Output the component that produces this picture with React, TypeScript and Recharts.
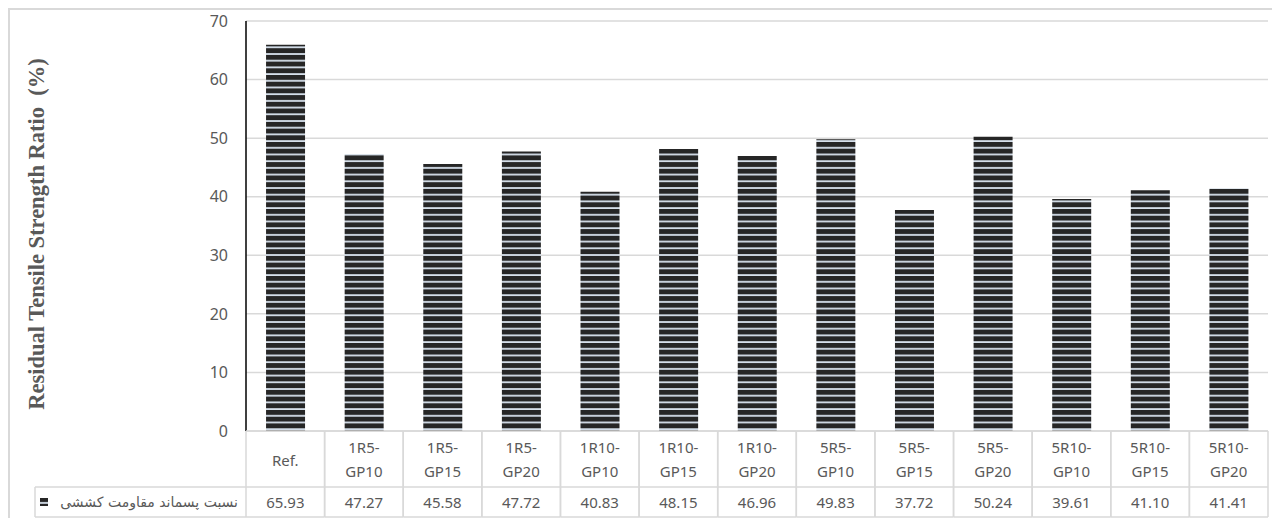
import React from 'react'
import { BarChart, Bar, XAxis, YAxis, CartesianGrid } from 'recharts'

// categories shown in the table header
const categories = [
  'Ref.',
  '1R5-GP10',
  '1R5-GP15',
  '1R5-GP20',
  '1R10-GP10',
  '1R10-GP15',
  '1R10-GP20',
  '5R5-GP10',
  '5R5-GP15',
  '5R5-GP20',
  '5R10-GP10',
  '5R10-GP15',
  '5R10-GP20',
]

// residual tensile strength ratio (%)
const ratio = [65.93, 47.27, 45.58, 47.72, 40.83, 48.15, 46.96, 49.83, 37.72, 50.24, 39.61, 41.1, 41.41]

const yTicks = [0, 10, 20, 30, 40, 50, 60, 70]
const seriesName = 'نسبت پسماند مقاومت کششی'
const yTitle = 'Residual Tensile Strength Ratio \u00a0(%)'

const data = categories.map((name, i) => ({ name, value: ratio[i] }))

const W = 1272
const H = 510
const LEFT = 238
const RIGHT = 12
const GRID = '#d9d9d9'
const TEXT = '#595959'
const FONT = '"Noto Sans", sans-serif'

// Excel style data table drawn under each category
const TableTick = (props: any) => {
  const { x, y, payload, index } = props
  const band = (W - LEFT - RIGHT) / categories.length
  const half = payload.offset ? payload.offset : band / 2
  const cx = payload.coordinate ?? x
  const top = y
  const mid = top + 56
  const bottom = top + 86
  const label: string = String(payload.value)
  const parts = label.includes('-') ? [label.split('-')[0] + '-', label.split('-').slice(1).join('-')] : [label]
  const i = payload.index ?? index
  return (
    <g>
      <line x1={cx - half} x2={cx + half} y1={top} y2={top} stroke={GRID} strokeWidth={1.5} />
      <line x1={cx - half} x2={cx + half} y1={mid} y2={mid} stroke={GRID} strokeWidth={1.5} />
      <line x1={cx - half} x2={cx + half} y1={bottom} y2={bottom} stroke={GRID} strokeWidth={1.5} />
      <line x1={cx - half} x2={cx - half} y1={top} y2={bottom} stroke={GRID} strokeWidth={1.5} />
      <line x1={cx + half} x2={cx + half} y1={top} y2={bottom} stroke={GRID} strokeWidth={1.5} />
      {parts.length === 1 ? (
        <text x={cx} y={top + 29} textAnchor="middle" dominantBaseline="central" fill={TEXT} fontSize={15} fontFamily={FONT}>
          {parts[0]}
        </text>
      ) : (
        <>
          <text x={cx} y={top + 16} textAnchor="middle" dominantBaseline="central" fill={TEXT} fontSize={15} fontFamily={FONT}>
            {parts[0]}
          </text>
          <text x={cx} y={top + 40} textAnchor="middle" dominantBaseline="central" fill={TEXT} fontSize={15} fontFamily={FONT}>
            {parts[1]}
          </text>
        </>
      )}
      <text x={cx} y={mid + 15} textAnchor="middle" dominantBaseline="central" fill={TEXT} fontSize={15} fontFamily={FONT}>
        {ratio[i] !== undefined ? ratio[i].toFixed(2) : ''}
      </text>
      {i === 0 && (
        <g>
          <line x1={27} x2={cx - half} y1={mid} y2={mid} stroke={GRID} strokeWidth={1.5} />
          <line x1={27} x2={cx - half} y1={bottom} y2={bottom} stroke={GRID} strokeWidth={1.5} />
          <line x1={27} x2={27} y1={mid} y2={bottom} stroke={GRID} strokeWidth={1.5} />
          <text x={cx - half - 8} y={mid + 15} textAnchor="end" dominantBaseline="central" fill={TEXT} fontSize={14} fontFamily='"DejaVu Sans", sans-serif'>
            {seriesName}
          </text>
          <rect x={32} y={mid + 11} width={8} height={8} fill="url(#stripes)" />
        </g>
      )}
    </g>
  )
}

const YTitle = () => (
  <text
    transform="translate(28, 226) rotate(-90)"
    textAnchor="middle"
    dominantBaseline="central"
    fill={TEXT}
    fontSize={22.5}
    fontWeight="bold"
    fontFamily='"Liberation Serif", "Times New Roman", serif'
  >
    {yTitle}
  </text>
)

export default function App() {
  return (
    <div style={{ position: 'relative', width: W, height: H }}>
      <div
        style={{
          position: 'absolute',
          left: 0,
          top: 0,
          width: W,
          height: H,
          borderTop: `2px solid ${GRID}`,
          borderLeft: `2px solid ${GRID}`,
          boxSizing: 'border-box',
          pointerEvents: 'none',
        }}
      />
      <BarChart
        width={W}
        height={H}
        data={data}
        margin={{ top: 13, right: RIGHT, bottom: 1, left: 0 }}
        barCategoryGap="25.5%"
      >
        <defs>
          <pattern id="stripes" patternUnits="userSpaceOnUse" width={10} height={6.7}>
            <rect x={0} y={0} width={10} height={6.7} fill="#262626" />
            <rect x={0} y={4.9} width={10} height={1.8} fill="#d6e0ec" />
          </pattern>
        </defs>
        <CartesianGrid vertical={false} stroke={GRID} strokeWidth={1.5} />
        <XAxis
          dataKey="name"
          interval={0}
          height={86}
          tickLine={false}
          axisLine={false}
          tickSize={0}
          tickMargin={0}
          tick={<TableTick />}
        />
        <YAxis
          width={LEFT}
          domain={[0, 70]}
          ticks={yTicks}
          interval={0}
          tickLine={false}
          tickMargin={12}
          axisLine={{ stroke: '#000', strokeWidth: 1.5 }}
          tick={{ fill: TEXT, fontSize: 16, fontFamily: FONT }}
          label={{ content: () => <YTitle /> }}
        />
        <Bar dataKey="value" fill="url(#stripes)" isAnimationActive={false} />
      </BarChart>
    </div>
  )
}
